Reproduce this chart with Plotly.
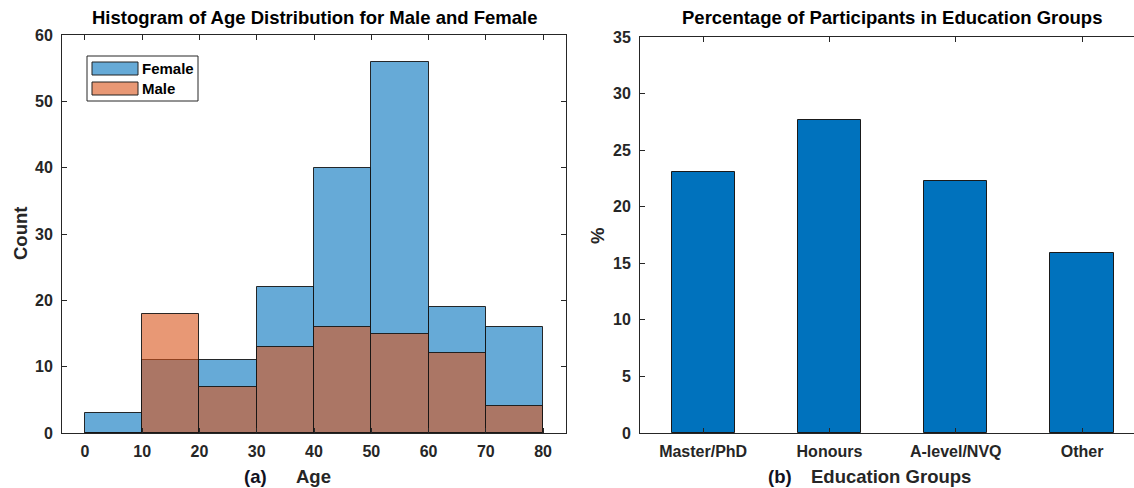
import plotly.graph_objects as go

# ---------------- data ----------------
age_bin_edges = [0, 10, 20, 30, 40, 50, 60, 70, 80]
female_counts = [3, 11, 11, 22, 40, 56, 19, 16]
male_counts = [0, 18, 7, 13, 16, 15, 12, 4]

edu_groups = ["Master/PhD", "Honours", "A-level/NVQ", "Other"]
edu_percent = [23.1, 27.7, 22.3, 15.9]

age_ticks = [0, 10, 20, 30, 40, 50, 60, 70, 80]
count_ticks = [0, 10, 20, 30, 40, 50, 60]
pct_ticks = [0, 5, 10, 15, 20, 25, 30, 35]

# ---------------- layout helpers ----------------
W, H = 1134, 488
FONT = "Liberation Sans, Arial, Helvetica, sans-serif"
AX = "#262626"
LBL = 18.5


def px(x):
    return x / W


def py(y):
    return 1 - y / H


bin_centers = [(a + b) / 2 for a, b in zip(age_bin_edges[:-1], age_bin_edges[1:])]
bin_widths = [b - a for a, b in zip(age_bin_edges[:-1], age_bin_edges[1:])]

fig = go.Figure()

fig.add_trace(go.Bar(
    x=bin_centers, y=female_counts, width=bin_widths, name="Female",
    marker=dict(color="rgba(0,114,189,0.6)", line=dict(color="rgba(20,20,20,0.9)", width=1)),
    xaxis="x", yaxis="y", showlegend=False,
))
fig.add_trace(go.Bar(
    x=bin_centers, y=male_counts, width=bin_widths, name="Male",
    marker=dict(color="rgba(217,83,25,0.6)", line=dict(color="rgba(20,20,20,0.9)", width=1)),
    xaxis="x", yaxis="y", showlegend=False,
))
fig.add_trace(go.Bar(
    x=edu_groups, y=edu_percent, width=0.5, name="Education",
    marker=dict(color="#0072BD", line=dict(color="#1a1a1a", width=1)),
    xaxis="x2", yaxis="y2", showlegend=False,
))

tickfont = dict(family=FONT, size=16, color=AX, weight="bold")
common = dict(showline=True, linecolor=AX, linewidth=1, ticks="inside", ticklen=5,
              tickcolor=AX, tickwidth=1, showgrid=False, zeroline=False, tickfont=tickfont,
              automargin=False)

fig.update_layout(
    template="none",
    width=W, height=H,
    margin=dict(l=0, r=0, t=0, b=0, autoexpand=False),
    paper_bgcolor="white", plot_bgcolor="white",
    barmode="overlay",
    xaxis=dict(domain=[px(62), px(566)], range=[-4, 84], tickvals=age_ticks,
               mirror="ticks", anchor="y", ticklabelstandoff=4, **common),
    yaxis=dict(domain=[py(433), py(35)], range=[0, 60], tickvals=count_ticks,
               mirror="ticks", anchor="x", ticklabelstandoff=5, **common),
    xaxis2=dict(domain=[px(640), 1.0], range=[-0.5, -0.5 + (1134 - 640) / 126.3],
                type="category", mirror="ticks", anchor="y2", ticklabelstandoff=4, **common),
    yaxis2=dict(domain=[py(433), py(37)], range=[0, 35], tickvals=pct_ticks,
                mirror=False, anchor="x2", ticklabelstandoff=5, **common),
    bargap=0,
)

annos = [
    dict(text="<b>Histogram of Age Distribution for Male and Female</b>", x=px(314), y=py(18),
         font=dict(family=FONT, size=LBL, color="black")),
    dict(text="<b>Percentage of Participants in Education Groups</b>", x=px(892), y=py(18),
         font=dict(family=FONT, size=LBL, color="black")),
    dict(text="<b>Count</b>", x=px(20), y=py(234), textangle=-90,
         font=dict(family=FONT, size=LBL, color=AX)),
    dict(text="<b>%</b>", x=px(597), y=py(236), textangle=-90,
         font=dict(family=FONT, size=LBL, color=AX)),
    dict(text="<b>(a)</b>", x=px(255), y=py(476), font=dict(family=FONT, size=LBL, color="#111122")),
    dict(text="<b>Age</b>", x=px(313), y=py(476), font=dict(family=FONT, size=LBL, color=AX)),
    dict(text="<b>(b)</b>", x=px(780), y=py(476), font=dict(family=FONT, size=LBL, color="#111122")),
    dict(text="<b>Education Groups</b>", x=px(891), y=py(476), font=dict(family=FONT, size=LBL, color=AX)),
    dict(text="<b>Female</b>", x=px(140), y=py(68.5), xanchor="left",
         font=dict(family=FONT, size=15, color="black")),
    dict(text="<b>Male</b>", x=px(140), y=py(88.5), xanchor="left",
         font=dict(family=FONT, size=15, color="black")),
]
for a in annos:
    a.setdefault("xanchor", "center")
    fig.add_annotation(xref="paper", yref="paper", yanchor="middle", showarrow=False, **a)

# manual legend box and swatches
fig.add_shape(type="rect", xref="paper", yref="paper", x0=px(87), x1=px(198), y0=py(101), y1=py(56),
              line=dict(color=AX, width=1), fillcolor="white", layer="above")
fig.add_shape(type="rect", xref="paper", yref="paper", x0=px(92), x1=px(138), y0=py(75), y1=py(62),
              line=dict(color="#222222", width=1), fillcolor="rgba(0,114,189,0.6)", layer="above")
fig.add_shape(type="rect", xref="paper", yref="paper", x0=px(92), x1=px(138), y0=py(95), y1=py(82),
              line=dict(color="#222222", width=1), fillcolor="rgba(217,83,25,0.6)", layer="above")

fig.write_html("out.html", config={"displayModeBar": False},
               post_script="document.body.style.margin='0';document.body.style.overflow='hidden';")
